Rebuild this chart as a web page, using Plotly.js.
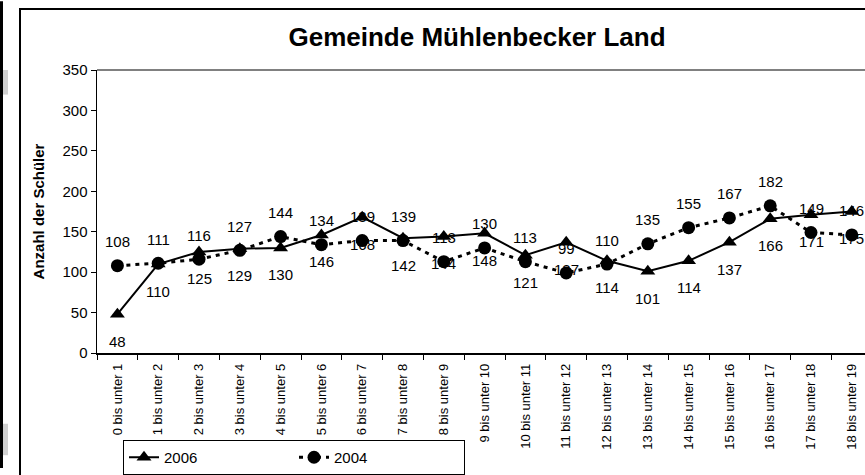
<!DOCTYPE html>
<html><head><meta charset="utf-8">
<script src="https://cdn.plot.ly/plotly-3.0.1.min.js"></script>
<style>html,body{margin:0;padding:0;background:#fff;overflow:hidden}#c{width:865px;height:475px}</style>
</head><body><div id="c"></div>
<script>
const categories = ["0 bis unter 1","1 bis unter 2","2 bis unter 3","3 bis unter 4","4 bis unter 5","5 bis unter 6","6 bis unter 7","7 bis unter 8","8 bis unter 9","9 bis unter 10","10 bis unter 11","11 bis unter 12","12 bis unter 13","13 bis unter 14","14 bis unter 15","15 bis unter 16","16 bis unter 17","17 bis unter 18","18 bis unter 19"];
const values2006 = [48,110,125,129,130,146,168,142,144,148,121,137,114,101,114,137,166,171,175];
const values2004 = [108,111,116,127,144,134,139,139,113,130,113,99,110,135,155,167,182,149,146];
const yTicks = [0,50,100,150,200,250,300,350];

const W = 865, H = 475;
const ml = 97, mr = 0, mt = 70, mb = 117;
const pw = W - ml - mr, ph = H - mt - mb;
const px = x => (x - ml) / pw;
const py = y => (H - mb - y) / ph;

const F = '"Liberation Sans", Arial, sans-serif';

const traces = [
  {x: categories, y: values2006, name: '2006', type: 'scatter', mode: 'lines+markers',
   line: {color: '#000', width: 2}, marker: {symbol: 'triangle-up', size: 13, color: '#000'}},
  {x: categories, y: values2004, name: '2004', type: 'scatter', mode: 'lines+markers',
   line: {color: '#000', width: 3, dash: '4px,5px'}, marker: {symbol: 'circle', size: 13, color: '#000'}}
];

const annotations = [];
categories.forEach((c, i) => {
  annotations.push({x: c, y: values2004[i], xref: 'x', yref: 'y', text: String(values2004[i]),
    showarrow: false, yshift: 24, font: {family: F, size: 15, color: '#000'}});
  annotations.push({x: c, y: values2006[i], xref: 'x', yref: 'y', text: String(values2006[i]),
    showarrow: false, yshift: -27, font: {family: F, size: 15, color: '#000'}});
});

const shapes = [
  {type: 'rect', xref: 'paper', yref: 'paper', x0: px(20), x1: px(W + 20), y0: py(H + 20), y1: py(8),
   line: {color: '#000', width: 2}, fillcolor: 'rgba(0,0,0,0)', layer: 'below'},
  {type: 'line', xref: 'paper', yref: 'paper', x0: 0, x1: px(W + 10), y0: 1, y1: 1,
   line: {color: '#808080', width: 2}},
  {type: 'rect', xref: 'paper', yref: 'paper', x0: px(0), x1: px(3), y0: py(H), y1: py(0),
   line: {width: 0}, fillcolor: '#000'},
  {type: 'rect', xref: 'paper', yref: 'paper', x0: px(3), x1: px(8), y0: py(95), y1: py(70),
   line: {width: 0}, fillcolor: '#d0d0d0'},
  {type: 'rect', xref: 'paper', yref: 'paper', x0: px(3), x1: px(8), y0: py(462), y1: py(430),
   line: {width: 0}, fillcolor: '#d0d0d0'}
];

const layout = {
  width: W, height: H,
  margin: {l: ml, r: mr, t: mt, b: mb, pad: 0},
  paper_bgcolor: '#fff', plot_bgcolor: '#fff',
  font: {family: F, color: '#000'},
  title: {text: '<b>Gemeinde Mühlenbecker Land</b>', font: {family: F, size: 26, color: '#000'},
          xref: 'container', yref: 'container', x: 477 / W, y: 1 - 37 / H, xanchor: 'center', yanchor: 'middle'},
  xaxis: {type: 'category', range: [-0.5, -0.5 + pw / 40.8], showgrid: false, zeroline: false,
          showline: true, linecolor: '#000', linewidth: 1.5, ticks: 'outside', ticklen: 5, tickcolor: '#000',
          tickson: 'boundaries', tickangle: -90, ticklabelstandoff: 4,
          tickfont: {family: F, size: 13, color: '#000'}},
  yaxis: {range: [0, 350], tickvals: yTicks, ticktext: yTicks.map(String), showgrid: false, zeroline: false,
          showline: true, linecolor: '#000', linewidth: 1.5, ticks: 'outside', ticklen: 5, tickcolor: '#000',
          tickfont: {family: F, size: 15, color: '#000'},
          title: {text: '<b>Anzahl der Schüler</b>', font: {family: F, size: 15, color: '#000'}, standoff: 14}},
  showlegend: true,
  legend: {orientation: 'h', x: px(123), y: py(447), xanchor: 'left', yanchor: 'top',
           bordercolor: '#000', borderwidth: 1, bgcolor: '#fff', entrywidth: 125,
           font: {family: F, size: 15, color: '#000'}},
  annotations: annotations,
  shapes: shapes
};

Plotly.newPlot('c', traces, layout, {displayModeBar: false, staticPlot: true});
</script>
</body></html>
